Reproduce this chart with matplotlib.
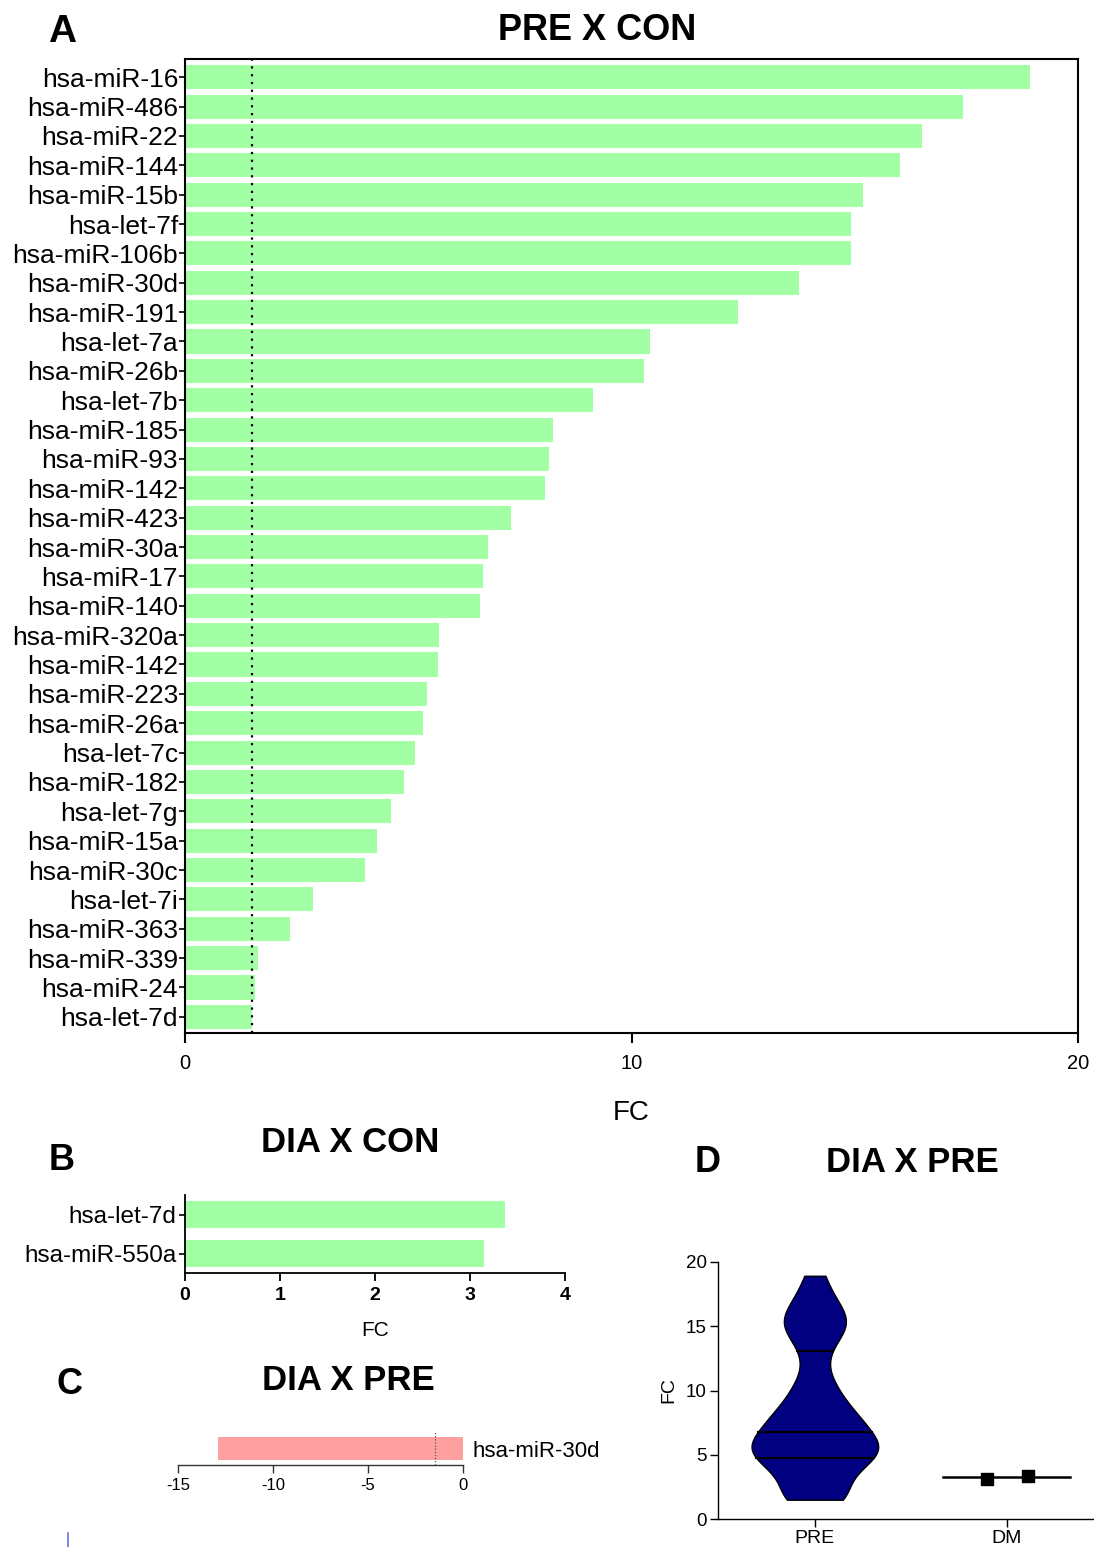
import numpy as np
import matplotlib
matplotlib.use("Agg")
import matplotlib.pyplot as plt
from matplotlib.lines import Line2D

plt.rcParams['font.family'] = ['Liberation Sans', 'DejaVu Sans']

# ---------------- data ----------------
a_labels = ["hsa-miR-16", "hsa-miR-486", "hsa-miR-22", "hsa-miR-144", "hsa-miR-15b",
            "hsa-let-7f", "hsa-miR-106b", "hsa-miR-30d", "hsa-miR-191", "hsa-let-7a",
            "hsa-miR-26b", "hsa-let-7b", "hsa-miR-185", "hsa-miR-93", "hsa-miR-142",
            "hsa-miR-423", "hsa-miR-30a", "hsa-miR-17", "hsa-miR-140", "hsa-miR-320a",
            "hsa-miR-142", "hsa-miR-223", "hsa-miR-26a", "hsa-let-7c", "hsa-miR-182",
            "hsa-let-7g", "hsa-miR-15a", "hsa-miR-30c", "hsa-let-7i", "hsa-miR-363",
            "hsa-miR-339", "hsa-miR-24", "hsa-let-7d"]
a_values = [18.93, 17.42, 16.51, 16.01, 15.18, 14.92, 14.92, 13.75, 12.39, 10.41,
            10.28, 9.14, 8.24, 8.15, 8.06, 7.30, 6.79, 6.67, 6.61, 5.69,
            5.67, 5.42, 5.33, 5.15, 4.90, 4.61, 4.30, 4.03, 2.87, 2.35,
            1.63, 1.57, 1.50]
a_threshold = 1.5
a_xticks = [0, 10, 20]

b_labels = ["hsa-let-7d", "hsa-miR-550a"]
b_values = [3.37, 3.15]
b_xticks = [0, 1, 2, 3, 4]

c_labels = ["hsa-miR-30d"]
c_values = [-12.9]
c_threshold = -1.5
c_xticks = [-15, -10, -5, 0]

d_groups = ["PRE", "DM"]
d_yticks = [0, 5, 10, 15, 20]

GREEN = "#A3FFA3"
PINK = "#FFA0A0"
NAVY = "#000080"

fig = plt.figure(figsize=(10.94, 15.47), dpi=100)
W, H = 1094, 1547

def ax_px(x0, y0, x1, y1):
    return fig.add_axes([x0 / W, 1 - y1 / H, (x1 - x0) / W, (y1 - y0) / H])

# ---------------- Panel A ----------------
axA = ax_px(185, 59, 1078, 1033)
yA = np.arange(len(a_labels))
axA.barh(yA, a_values, height=0.82, color=GREEN, edgecolor='none')
axA.axvline(a_threshold, color='black', linestyle=(0, (1, 2.5)), linewidth=1.6)
axA.set_xlim(0, 20)
axA.set_ylim(len(a_labels) - 0.45, -0.62)
axA.set_yticks(yA)
axA.set_yticklabels(a_labels, fontsize=19)
axA.set_xticks(a_xticks)
axA.set_xticklabels([str(t) for t in a_xticks], fontsize=14.5)
axA.tick_params(axis='y', length=4, width=1.2, pad=1)
axA.tick_params(axis='x', length=7, width=1.5, pad=8)
for s in axA.spines.values():
    s.set_linewidth(1.5)
fig.text(631 / W, 1 - 1113 / H, "FC", fontsize=20, ha='center', va='center')
fig.text(597 / W, 1 - 30 / H, "PRE X CON", fontsize=26, fontweight='bold', ha='center', va='center')
fig.text(62 / W, 1 - 32 / H, "A", fontsize=28, fontweight='bold', ha='center', va='center')

# ---------------- Panel B ----------------
axB = ax_px(185, 1195, 565, 1273)
yB = np.arange(len(b_labels))
axB.barh(yB, b_values, height=0.68, color=GREEN, edgecolor='none')
axB.set_xlim(0, 4)
axB.set_ylim(1.5, -0.5)
axB.set_yticks(yB)
axB.set_yticklabels(b_labels, fontsize=17.5)
axB.set_xticks(b_xticks)
axB.set_xticklabels([str(t) for t in b_xticks], fontsize=14, fontweight='bold')
axB.tick_params(axis='y', length=4, width=1.2, pad=2)
axB.tick_params(axis='x', length=6, width=1.3, pad=4)
axB.spines['top'].set_visible(False)
axB.spines['right'].set_visible(False)
for s in ['left', 'bottom']:
    axB.spines[s].set_linewidth(1.3)
axB.set_xlabel("FC", fontsize=15, labelpad=12)
fig.text(350 / W, 1 - 1143 / H, "DIA X CON", fontsize=25, fontweight='bold', ha='center', va='center')
fig.text(62 / W, 1 - 1160 / H, "B", fontsize=26, fontweight='bold', ha='center', va='center')

# ---------------- Panel C ----------------
axC = ax_px(178, 1431, 463, 1465)
axC.barh([0], c_values, height=1.0, color=PINK, edgecolor='none')
axC.axvline(c_threshold, color='#555555', linestyle=(0, (1, 1.5)), linewidth=0.9)
axC.set_xlim(-15, 0)
axC.set_ylim(-0.70, 0.78)
axC.yaxis.tick_right()
axC.set_yticks([0])
axC.set_yticklabels(c_labels, fontsize=16)
axC.tick_params(axis='y', length=0, pad=7)
axC.set_xticks(c_xticks)
axC.set_xticklabels([str(t) for t in c_xticks], fontsize=12)
axC.tick_params(axis='x', length=6, width=1.0, pad=3, color='#333333')
for s in ['top', 'left', 'right']:
    axC.spines[s].set_visible(False)
axC.spines['bottom'].set_linewidth(1.0)
axC.spines['bottom'].set_color('#333333')
fig.text(348 / W, 1 - 1381 / H, "DIA X PRE", fontsize=25, fontweight='bold', ha='center', va='center')
fig.text(70 / W, 1 - 1384 / H, "C", fontsize=26, fontweight='bold', ha='center', va='center')
fig.add_artist(Line2D([68 / W, 68 / W], [1 - 1547 / H, 1 - 1533 / H], color='#6670ee', linewidth=1.2))

# ---------------- Panel D ----------------
axD = ax_px(718, 1262, 1094, 1519)
pre = np.array(a_values)
dm = np.array(b_values)

# violin for PRE (gaussian KDE, truncated at data range)
grid = np.linspace(pre.min(), pre.max(), 400)
bw = 1.3
dens = np.exp(-0.5 * ((grid[:, None] - pre[None, :]) / bw) ** 2).sum(axis=1)
half = 0.33 * dens / dens.max()
axD.fill_betweenx(grid, 0 - half, 0 + half, facecolor=NAVY, edgecolor='black', linewidth=1.0, zorder=2)
q1, med, q3 = np.percentile(pre, [25, 50, 75], method='weibull')
for q in (q1, med, q3):
    hw = np.interp(q, grid, half)
    axD.plot([-hw, hw], [q, q], color='black', linewidth=1.5, zorder=3)

# DM: median line + points
dm_med = np.median(dm)
axD.plot([1 - 0.33, 1 + 0.33], [dm_med, dm_med], color='black', linewidth=1.8, zorder=3)
dm_sorted = np.sort(dm)
axD.scatter(1 + np.array([-0.105, 0.11]), dm_sorted, marker='s', s=70, color='black', zorder=4)

axD.set_xlim(-0.505, 1.455)
axD.set_ylim(0, 20)
axD.set_yticks(d_yticks)
axD.set_yticklabels([str(t) for t in d_yticks], fontsize=13.5)
axD.set_xticks([0, 1])
axD.set_xticklabels(d_groups, fontsize=14)
axD.tick_params(axis='y', length=6, width=1.0, pad=2)
axD.tick_params(axis='x', length=6, width=1.0, pad=2)
axD.spines['top'].set_visible(False)
axD.spines['right'].set_visible(False)
for s in ['left', 'bottom']:
    axD.spines[s].set_linewidth(1.0)
axD.set_ylabel("FC", fontsize=14, labelpad=6)
fig.text(912 / W, 1 - 1162 / H, "DIA X PRE", fontsize=25, fontweight='bold', ha='center', va='center')
fig.text(708 / W, 1 - 1163 / H, "D", fontsize=26, fontweight='bold', ha='center', va='center')

fig.savefig("out.png", dpi=100)
